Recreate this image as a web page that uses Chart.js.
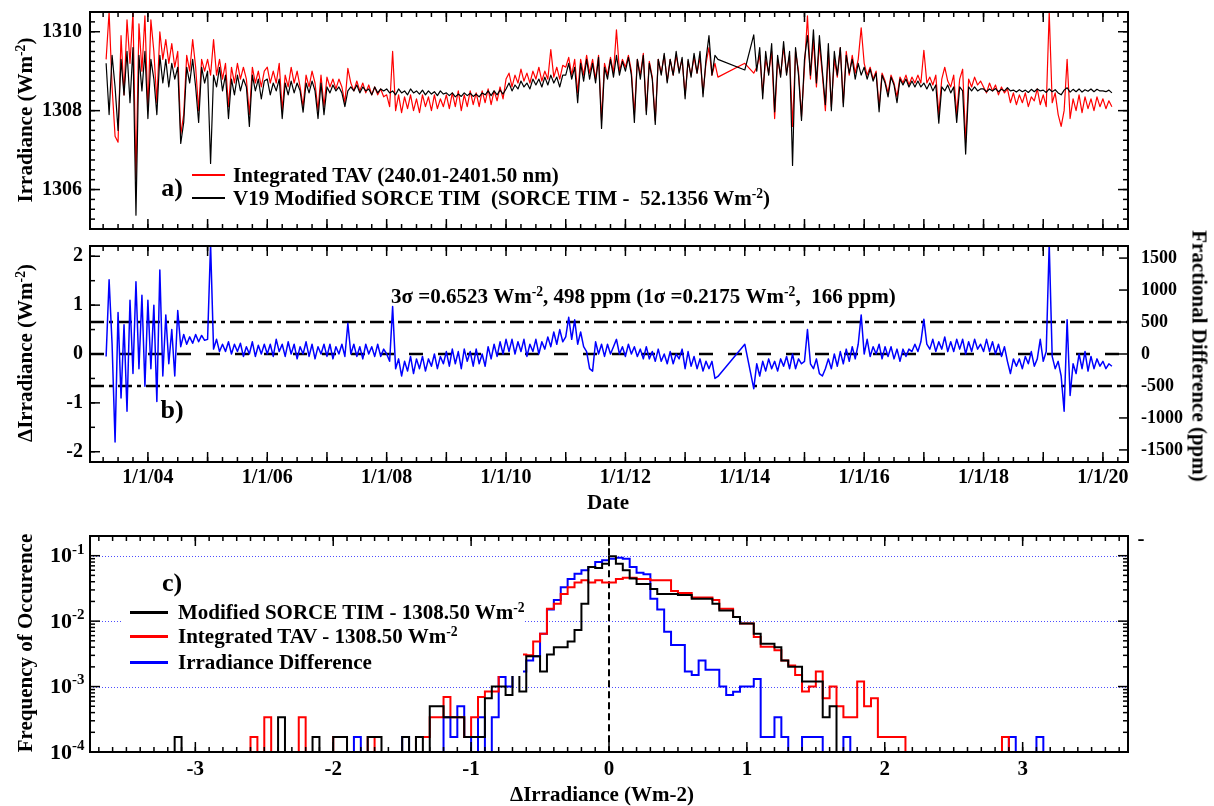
<!DOCTYPE html>
<html>
<head>
<meta charset="utf-8">
<script src="https://cdn.jsdelivr.net/npm/chart.js@4.4.1/dist/chart.umd.min.js"></script>
<style>
  body { margin: 0; background: #fff; }
  #page { position: relative; width: 1214px; height: 806px; overflow: hidden; background: #fff;
          font-family: "Liberation Serif", "Times New Roman", serif; font-weight: bold; }
  canvas { position: absolute; left: 0; }
  .t { position: absolute; white-space: nowrap; font-size: 21px; line-height: 21px; color: #000; }
  .t sup { font-size: 0.65em; vertical-align: baseline; position: relative; top: -0.55em; line-height: 0; }
  .c { transform: translate(-50%, -50%); }
  .l { transform: translateY(-50%); }
  .rl { transform: translate(-50%, -50%) rotate(-90deg); }
  .rr { transform: translate(-50%, -50%) rotate(90deg); }
  .ln { position: absolute; }
  .box { position: absolute; background: #fff; }
</style>
</head>
<body>
<div id="page">
  <canvas id="ca" width="1214" height="240" style="top:0"></canvas>
  <canvas id="cb" width="1214" height="280" style="top:240px"></canvas>
  <canvas id="cc" width="1214" height="286" style="top:520px"></canvas>

  <!-- panel a -->
  <div class="t rl" style="left:25px;top:120px">Irradiance (Wm<sup>-2</sup>)</div>
  <div class="t c" style="left:172px;top:188px;font-size:26px;line-height:26px">a)</div>
  <div class="ln" style="left:192px;top:174px;width:33px;height:1.5px;background:#ff0000"></div>
  <div class="t l" style="left:233px;top:175px">Integrated TAV (240.01-2401.50 nm)</div>
  <div class="ln" style="left:192px;top:197px;width:33px;height:1.5px;background:#000"></div>
  <div class="t l" style="left:233px;top:198px">V19 Modified SORCE TIM&nbsp; (SORCE TIM -&nbsp; 52.1356 Wm<sup>-2</sup>)</div>

  <!-- panel b -->
  <div class="t rl" style="left:25px;top:353px">ΔIrradiance (Wm<sup>-2</sup>)</div>
  <div class="t rr" style="left:1199px;top:356px">Fractional Difference (ppm)</div>
  <div class="t l" style="left:391px;top:296px">3σ =0.6523 Wm<sup>-2</sup>, 498 ppm (1σ =0.2175 Wm<sup>-2</sup>,&nbsp; 166 ppm)</div>
  <div class="t c" style="left:172px;top:410px;font-size:26px;line-height:26px">b)</div>
  <div class="t c" style="left:608px;top:502px">Date</div>

  <!-- panel c -->
  <div class="t rl" style="left:25px;top:643px">Frequency of Occurence</div>
  <div class="t c" style="left:602px;top:794px">ΔIrradiance (Wm-2)</div>
  <div class="box" style="left:123px;top:597px;width:400px;height:79px"></div>
  <div class="t c" style="left:172px;top:583px;font-size:26px;line-height:26px">c)</div>
  <div class="ln" style="left:130px;top:611px;width:38px;height:3px;background:#000"></div>
  <div class="t l" style="left:178px;top:612px">Modified SORCE TIM - 1308.50 Wm<sup>-2</sup></div>
  <div class="ln" style="left:130px;top:635px;width:38px;height:3px;background:#ff0000"></div>
  <div class="t l" style="left:178px;top:636px">Integrated TAV - 1308.50 Wm<sup>-2</sup></div>
  <div class="ln" style="left:130px;top:661px;width:38px;height:3px;background:#0000ff"></div>
  <div class="t l" style="left:178px;top:662px">Irradiance Difference</div>
  <div class="t c" style="left:1141px;top:538px">-</div>
</div>

<script>
// ---- time series, one sample every STEP_YEARS starting at START_YEAR ----
const START_YEAR = 2003.30;
const STEP_YEARS = 0.05;

// V19 Modified SORCE TIM (Wm-2)
const TIM = [
  1309.2, 1307.9, 1309.4, 1308.6, 1307.5, 1309.3, 1308.4, 1309.5, 1308.2, 1309.6, 1305.35, 1309.4, 1308.5, 1309.5,
  1307.8, 1309.3, 1308.8, 1307.9, 1309.4, 1308.7, 1309.3, 1308.6, 1309.2, 1308.8, 1309.1, 1307.17, 1307.7, 1309.1, 1308.7, 1309.3, 1308.6, 1307.7, 1309.1, 1308.7,
  1309.0, 1306.66, 1308.9, 1308.6, 1309.1, 1308.5, 1308.9, 1307.8, 1308.8, 1308.4, 1308.9, 1308.5, 1308.8, 1308.6, 1307.6, 1308.9, 1308.5, 1308.8, 1308.3, 1308.75,
  1308.8, 1308.4, 1308.7, 1308.5, 1308.8, 1307.8, 1308.7, 1308.4, 1308.75, 1308.45, 1308.7, 1308.5, 1307.96, 1308.7, 1308.45, 1308.75, 1308.5, 1307.8, 1308.7, 1307.9,
  1308.6, 1308.45, 1308.65, 1308.5, 1308.6, 1308.45, 1308.1, 1308.5, 1308.6, 1308.5, 1308.65, 1308.45, 1308.6, 1308.5, 1308.55, 1308.4, 1308.6, 1308.45, 1308.55, 1308.5,
  1308.55, 1308.45, 1308.5, 1308.4, 1308.55, 1308.45, 1308.5, 1308.4, 1308.55, 1308.45, 1308.5, 1308.42, 1308.52, 1308.4, 1308.5, 1308.42, 1308.48, 1308.38, 1308.5, 1308.42,
  1308.45, 1308.38, 1308.45, 1308.35, 1308.42, 1308.36, 1308.45, 1308.38, 1308.44, 1308.36, 1308.42, 1308.35, 1308.45, 1308.4, 1308.5, 1308.38, 1308.5, 1308.4, 1308.52, 1308.42,
  1308.55, 1308.7, 1308.5, 1308.65, 1308.55, 1308.75, 1308.6, 1308.7, 1308.55, 1308.8, 1308.65, 1308.8, 1308.6, 1308.85, 1308.65, 1308.9, 1308.7, 1308.85, 1308.6, 1308.9,
  1308.9, 1309.2, 1308.8, 1309.1, 1308.2, 1309.2, 1308.75, 1309.3, 1308.8, 1309.2, 1308.7, 1309.35, 1307.55, 1309.1, 1308.8, 1309.3, 1308.85, 1309.4, 1308.9, 1309.25,
  1309.0, 1309.35, 1308.9, 1307.7, 1309.3, 1308.8, 1309.4, 1307.9, 1309.2, 1308.8, 1307.65, 1309.3, 1308.9, 1309.45, 1308.7, 1309.3, 1308.9, 1309.5, 1308.95, 1309.35,
  1308.3, 1309.3, 1308.85, 1309.45, 1308.95, 1309.5, 1308.35, 1309.3, 1309.9, 1308.9, 1309.4, 1309.3, null, null, null, null, null, null, null, null,
  1309.03, null, null, 1309.92, 1309.0, 1309.6, 1308.3, 1309.5, 1308.9, 1309.7, 1307.97, 1309.4, 1308.85, 1309.75, 1308.9, 1309.5, 1306.61, 1309.6, 1308.9, 1307.75,
  1309.3, 1309.9, 1308.9, 1310.05, 1308.7, 1309.9, 1309.0, 1308.15, 1309.7, 1308.0, 1309.5, 1308.9, 1309.6, 1308.1, 1309.4, 1308.95, 1309.3, 1308.8, 1309.2, 1308.9,
  1309.1, 1308.8, 1309.05, 1308.75, 1308.95, 1307.97, 1308.9, 1308.7, 1308.35, 1308.85, 1308.65, 1308.2, 1308.8, 1308.65, 1308.8, 1308.6, 1308.75, 1308.6, 1308.75, 1308.6,
  1308.7, 1308.55, 1308.7, 1308.5, 1308.65, 1307.68, 1308.6, 1308.5, 1308.65, 1308.45, 1308.6, 1307.7, 1308.6, 1308.5, 1306.9, 1308.6, 1308.5, 1308.6, 1308.5, 1308.55,
  1308.55, 1308.48, 1308.55, 1308.5, 1308.56, 1308.48, 1308.54, 1308.5, 1308.58, 1308.5, 1308.52, 1308.47, 1308.53, 1308.48, 1308.52, 1308.46, 1308.54, 1308.48, 1308.55, 1308.5,
  1308.52, 1308.46, 1308.55, 1308.48, 1308.53, 1308.45, 1308.4, 1308.52, 1308.58, 1308.47, 1308.54, 1308.48, 1308.55, 1308.47, 1308.53, 1308.49, 1308.55, 1308.48, 1308.54, 1308.5,
  1308.5, 1308.48, 1308.52, 1308.45
];

// Integrated TAV 240.01-2401.50 nm (Wm-2)
const TAV = [
  1309.3, 1310.5, 1308.6, 1307.35, 1307.2, 1309.9, 1308.4, 1310.3, 1309.2, 1310.5, 1306.27, 1310.2, 1309.0, 1310.4,
  1308.0, 1310.3, 1309.5, 1308.2, 1310.0, 1309.3, 1309.8, 1309.2, 1309.7, 1309.1, 1309.5, 1307.4, 1307.9, 1309.4, 1309.0, 1309.8, 1309.1, 1308.0, 1309.3, 1309.0,
  1309.3, 1308.9, 1309.8, 1308.9, 1309.3, 1308.8, 1309.2, 1308.1, 1309.1, 1308.7, 1309.2, 1308.8, 1309.1, 1308.8, 1307.9, 1309.1, 1308.7, 1309.0, 1308.6, 1309.0,
  1309.1, 1308.7, 1309.0, 1308.7, 1309.2, 1308.0, 1308.9, 1308.6, 1309.1, 1308.7, 1309.0, 1308.6, 1308.1, 1308.9, 1308.6, 1309.0, 1308.7, 1308.0, 1308.9, 1308.1,
  1308.85, 1308.6, 1308.8, 1308.55, 1308.8, 1308.6, 1308.2, 1309.07, 1308.7, 1308.5, 1308.75, 1308.5, 1308.7, 1308.45, 1308.65, 1308.4, 1308.6, 1308.4, 1308.55, 1308.35,
  1308.4, 1308.1, 1309.5, 1308.0, 1308.4, 1307.95, 1308.35, 1308.05, 1308.4, 1308.0, 1308.3, 1307.95, 1308.4, 1308.1, 1308.35, 1308.0, 1308.4, 1308.05, 1308.3, 1308.1,
  1308.4, 1308.05, 1308.45, 1308.1, 1308.5, 1308.0, 1308.4, 1308.1, 1308.5, 1308.15, 1308.45, 1308.1, 1308.5, 1308.2, 1308.55, 1308.15, 1308.5, 1308.25, 1308.6, 1308.3,
  1308.8, 1308.95, 1308.6, 1308.9, 1308.7, 1309.05, 1308.75, 1308.95, 1308.7, 1309.0, 1308.8, 1309.1, 1308.75, 1309.0, 1308.8, 1309.55, 1308.85, 1309.1, 1308.8, 1309.15,
  1309.1, 1309.35, 1308.9, 1309.3, 1308.45, 1309.3, 1308.9, 1309.4, 1308.95, 1309.3, 1308.8, 1309.4, 1307.75, 1309.2, 1308.9, 1309.35, 1308.95, 1310.05, 1309.0, 1309.3,
  1309.1, 1309.4, 1309.0, 1307.9, 1309.3, 1308.9, 1309.45, 1308.0, 1309.25, 1308.85, 1307.75, 1309.3, 1308.95, 1309.4, 1308.75, 1309.3, 1308.9, 1309.4, 1309.0, 1309.3,
  1308.4, 1309.25, 1308.9, 1309.35, 1308.95, 1309.35, 1308.45, 1309.2, 1309.6, 1308.9, 1309.2, 1308.85, null, null, null, null, null, null, null, null,
  1309.2, null, null, 1308.95, 1309.1, 1309.4, 1308.45, 1309.3, 1308.95, 1309.5, 1307.8, 1309.3, 1308.9, 1309.6, 1308.95, 1309.4, 1307.6, 1309.5, 1309.0, 1307.85,
  1309.1, 1310.4, 1308.8, 1309.8, 1308.6, 1309.7, 1308.9, 1308.0, 1309.5, 1308.1, 1309.3, 1308.85, 1309.6, 1308.2, 1309.5, 1308.9, 1309.4, 1308.95, 1309.3, 1310.1,
  1309.2, 1308.9, 1309.1, 1308.8, 1309.0, 1308.1, 1308.95, 1308.75, 1308.45, 1308.9, 1308.7, 1308.35, 1308.85, 1308.7, 1308.9, 1308.65, 1308.85, 1308.7, 1308.9, 1308.7,
  1309.53, 1308.7, 1308.85, 1308.65, 1308.9, 1307.9, 1308.8, 1309.1, 1308.75, 1308.6, 1308.9, 1307.9, 1308.8, 1309.05, 1307.2, 1308.8, 1308.6, 1308.85, 1308.65, 1308.75,
  1308.6, 1308.45, 1308.7, 1308.5, 1308.65, 1308.4, 1308.6, 1308.45, 1308.55, 1308.2, 1308.45, 1308.15, 1308.4, 1308.2, 1308.45, 1308.1, 1308.35, 1308.25, 1308.55, 1308.15,
  1308.4, 1308.1, 1310.5, 1308.2, 1308.45, 1307.9, 1307.6, 1308.0, 1309.3, 1307.8, 1308.3, 1308.0, 1308.4, 1307.95, 1308.35, 1308.05, 1308.3, 1308.0, 1308.35, 1308.1,
  1308.3, 1308.05, 1308.25, 1308.1
];

// Irradiance difference TAV - TIM (Wm-2)
const DIFF = [
  -0.05, 1.52, 0.2, -1.8, 0.85, -0.9, 0.6, -1.17, 1.1, -0.4, 1.48, -0.3, 1.2, -0.66,
  1.1, -0.3, 1.0, -0.97, 1.72, -0.45, 0.8, -0.2, 0.5, -0.45, 0.89, 0.15, 0.4, 0.2, 0.35, 0.22, 0.4, 0.25, 0.38, 0.28,
  0.3, 2.25, 0.1, 0.3, 0.05, 0.2, 0.05, 0.25, 0.0, 0.2, 0.05, 0.22, -0.05, 0.15, 0.0, 0.25, -0.05, 0.18, 0.0, 0.2,
  0.0, 0.2, -0.05, 0.3, 0.05, 0.2, -0.05, 0.25, 0.0, 0.2, -0.1, 0.15, 0.0, 0.25, -0.05, 0.2, -0.1, 0.15, 0.0, 0.2,
  -0.05, 0.2, -0.1, 0.15, 0.0, 0.2, -0.05, 0.63, 0.0, 0.2, -0.05, 0.15, -0.1, 0.2, 0.0, 0.15, -0.05, 0.2, -0.05, 0.1,
  0.0, -0.15, 0.97, -0.3, -0.1, -0.45, -0.15, -0.35, -0.05, -0.4, -0.1, -0.3, -0.05, -0.35, -0.1, -0.25, 0.0, -0.3, -0.05, -0.2,
  0.05, -0.25, 0.1, -0.2, 0.05, -0.3, 0.1, -0.15, 0.05, -0.25, 0.1, -0.2, 0.0, -0.25, 0.15, -0.1, 0.2, -0.05, 0.25, 0.0,
  0.3, 0.05, 0.3, 0.0, 0.25, 0.05, 0.3, -0.05, 0.2, 0.05, 0.3, 0.0, 0.25, 0.1, 0.35, 0.15, 0.45, 0.2, 0.5, 0.25,
  0.35, 0.75, 0.3, 0.7, 0.2, 0.45, 0.15, 0.05, -0.3, -0.35, 0.25, 0.0, 0.2, -0.05, 0.2, 0.0, 0.15, 0.3, 0.0, 0.15,
  -0.05, 0.2, 0.0, 0.15, -0.05, 0.1, -0.1, 0.15, -0.1, 0.05, -0.15, 0.1, -0.15, 0.0, -0.2, 0.05, -0.2, 0.0, -0.1, 0.1,
  -0.3, 0.05, -0.25, -0.05, -0.3, -0.1, -0.35, -0.15, -0.3, -0.15, -0.5, -0.46, null, null, null, null, null, null, null, null,
  0.2, null, null, -0.71, -0.2, -0.45, -0.15, -0.35, -0.1, -0.3, -0.15, -0.35, -0.1, -0.25, -0.05, -0.3, 0.0, -0.3, -0.1, -0.2,
  -0.15, 0.5, -0.2, -0.3, -0.1, -0.4, -0.45, -0.3, -0.1, -0.3, 0.0, -0.25, 0.05, -0.2, 0.1, -0.15, 0.15, -0.1, 0.2, 0.8,
  0.0, 0.3, -0.05, 0.15, 0.0, 0.2, -0.1, 0.15, -0.05, 0.15, -0.1, 0.1, -0.15, 0.1, -0.05, 0.1, 0.05, 0.2, 0.05, 0.25,
  0.71, 0.2, 0.1, 0.3, 0.05, 0.25, 0.1, 0.35, 0.05, 0.25, 0.05, 0.3, 0.1, 0.3, 0.0, 0.25, 0.05, 0.3, 0.1, 0.2,
  0.05, 0.3, 0.05, 0.25, 0.0, 0.2, -0.05, 0.15, -0.15, -0.4, -0.1, -0.25, -0.1, -0.3, -0.05, -0.2, 0.05, -0.25, -0.1, 0.3,
  -0.15, 0.05, 2.25, -0.05, -0.3, -0.15, -0.45, -1.17, 0.7, -0.85, -0.2, -0.4, 0.0, -0.3, 0.05, -0.35, -0.05, -0.3, -0.1, -0.25,
  -0.15, -0.3, -0.2, -0.25
];

const SIGMA3 = 0.6523;      // 3 sigma of the difference
const TSI_REF = 1308.5;     // for the ppm axis

const DATE_TICKS = [2004, 2006, 2008, 2010, 2012, 2014, 2016, 2018, 2020];
const DATE_LABELS = ['1/1/04', '1/1/06', '1/1/08', '1/1/10', '1/1/12', '1/1/14', '1/1/16', '1/1/18', '1/1/20'];
const IRR_TICKS = [1306, 1308, 1310];
const DIFF_TICKS = [-2, -1, 0, 1, 2];
const PPM_TICKS = [-1500, -1000, -500, 0, 500, 1000, 1500];

// ---- histograms: bin left edge (Wm-2) and frequency of occurence ----
const BIN_W = 0.05;
const TIM_BINS = [-3.15, -2.40, -2.15, -2.00, -1.95, -1.75, -1.70, -1.50, -1.40,
  -1.30, -1.25, -1.20, -1.15, -1.10, -1.05, -1.00, -0.95, -0.90, -0.85, -0.80, -0.75, -0.70, -0.65, -0.60, -0.55,
  -0.50, -0.45, -0.40, -0.35, -0.30, -0.25, -0.20, -0.15, -0.10, -0.05,
  0.00, 0.05, 0.10, 0.15, 0.20, 0.25, 0.30, 0.35, 0.40, 0.45, 0.50, 0.55, 0.60, 0.65, 0.70, 0.75,
  0.80, 0.85, 0.90, 0.95, 1.00, 1.05, 1.10, 1.15, 1.20, 1.25, 1.30, 1.35, 1.40, 1.45, 1.50, 1.55, 1.60];
const TIM_FREQ = [1.7e-4, 3.4e-4, 1.7e-4, 1.7e-4, 1.7e-4, 1.7e-4, 1.7e-4, 1.7e-4, 1.7e-4,
  5.0e-4, 5.0e-4, 3.4e-4, 3.4e-4, 3.4e-4, 1.7e-4, 1.7e-4, 1.7e-4, 6.6e-4, 1.0e-3, 1.0e-3, 7.4e-4, 1.7e-3, 8.4e-4, 2.9e-3, 2.9e-3,
  1.7e-3, 3.1e-3, 4.0e-3, 4.0e-3, 4.9e-3, 7.3e-3, 1.85e-2, 6.7e-2, 6.5e-2, 7.5e-2,
  9.8e-2, 7.5e-2, 6.0e-2, 4.5e-2, 3.7e-2, 3.7e-2, 3.1e-2, 2.6e-2, 2.6e-2, 2.6e-2, 2.5e-2, 2.5e-2, 2.2e-2, 2.2e-2, 2.2e-2, 1.85e-2,
  1.46e-2, 1.46e-2, 1.16e-2, 9.2e-3, 9.2e-3, 6.4e-3, 4.5e-3, 4.5e-3, 4.0e-3, 2.5e-3, 2.0e-3, 2.0e-3, 1.2e-3, 1.2e-3, 1.2e-3, 3.4e-4, 5.0e-4];

const TAV_BINS = [-2.60, -2.50, -2.25, -2.00, -1.95, -1.75,
  -1.40, -1.35, -1.30, -1.25, -1.20, -1.15, -1.10, -1.05, -1.00, -0.95, -0.90, -0.85, -0.80, -0.75, -0.70, -0.65, -0.60, -0.55,
  -0.50, -0.45, -0.40, -0.35, -0.30, -0.25, -0.20, -0.15, -0.10, -0.05,
  0.00, 0.05, 0.10, 0.15, 0.20, 0.25, 0.30, 0.35, 0.40, 0.45, 0.50, 0.55, 0.60, 0.65, 0.70, 0.75,
  0.80, 0.85, 0.90, 0.95, 1.00, 1.05, 1.10, 1.15, 1.20, 1.25, 1.30, 1.35, 1.40, 1.45, 1.50, 1.55, 1.60,
  1.65, 1.70, 1.75, 1.80, 1.85, 1.90, 1.95, 2.00, 2.05, 2.10, 2.85];
const TAV_FREQ = [1.7e-4, 3.4e-4, 3.4e-4, 1.7e-4, 1.7e-4, 1.7e-4,
  1.7e-4, 1.7e-4, 3.4e-4, 3.4e-4, 6.9e-4, 3.4e-4, 3.4e-4, 1.7e-4, 3.4e-4, 6.9e-4, 8.4e-4, 8.4e-4, 2.2e-3, 2.0e-3, 2.2e-3, 3.1e-3, 3.0e-3, 4.9e-3,
  6.4e-3, 1.55e-2, 1.85e-2, 2.6e-2, 3.3e-2, 3.9e-2, 4.2e-2, 3.9e-2, 4.2e-2, 3.9e-2,
  3.9e-2, 4.4e-2, 4.6e-2, 4.6e-2, 4.4e-2, 4.4e-2, 4.2e-2, 4.2e-2, 4.2e-2, 2.9e-2, 2.7e-2, 2.7e-2, 2.3e-2, 2.3e-2, 2.3e-2, 2.1e-2,
  1.55e-2, 1.55e-2, 1.16e-2, 9.2e-3, 9.2e-3, 5.7e-3, 4.05e-3, 4.05e-3, 3.6e-3, 2.5e-3, 2.1e-3, 1.5e-3, 8.4e-4, 1.0e-3, 1.7e-3, 6.6e-4, 1.0e-3,
  5.0e-4, 3.4e-4, 3.4e-4, 1.2e-3, 5.0e-4, 6.6e-4, 1.7e-4, 1.7e-4, 1.7e-4, 1.7e-4, 1.7e-4];

const DIF_BINS = [-1.85, -1.50, -1.20, -1.15, -1.10, -1.05, -0.95, -0.85,
  -0.80, -0.75, -0.70, -0.65, -0.60, -0.55, -0.50, -0.45, -0.40, -0.35, -0.30, -0.25, -0.20, -0.15, -0.10, -0.05,
  0.00, 0.05, 0.10, 0.15, 0.20, 0.25, 0.30, 0.35, 0.40, 0.45, 0.50, 0.55, 0.60, 0.65, 0.70, 0.75,
  0.80, 0.85, 0.90, 0.95, 1.00, 1.05, 1.10, 1.15, 1.20, 1.25, 1.40, 1.45, 1.50, 1.70, 2.90, 3.10];
const DIF_FREQ = [1.7e-4, 1.7e-4, 3.4e-4, 1.7e-4, 5.0e-4, 1.7e-4, 3.4e-4, 3.4e-4,
  1.4e-3, 1.0e-3, 1.8e-3, 1.7e-3, 2.5e-3, 2.9e-3, 6.4e-3, 1.5e-2, 2.1e-2, 3.3e-2, 4.4e-2, 5.3e-2, 6.0e-2, 6.7e-2, 8.0e-2, 8.5e-2,
  9.0e-2, 9.3e-2, 9.0e-2, 6.7e-2, 5.5e-2, 5.2e-2, 2.2e-2, 1.5e-2, 6.9e-3, 4.3e-3, 4.3e-3, 1.7e-3, 1.5e-3, 2.5e-3, 1.8e-3, 1.8e-3,
  1.0e-3, 7.4e-4, 8.3e-4, 1.0e-3, 1.0e-3, 1.3e-3, 1.7e-4, 1.7e-4, 3.4e-4, 1.7e-4, 1.7e-4, 1.7e-4, 1.7e-4, 1.7e-4, 1.7e-4, 1.7e-4];

const HIST_X_TICKS = [-3, -2, -1, 0, 1, 2, 3];
const FREQ_TICKS = [1e-4, 1e-3, 1e-2, 1e-1];
const FREQ_EXP = ['-4', '-3', '-2', '-1'];

// ---- axis ranges ----
const XMIN = 2003.03, XMAX = 2020.42;
const YA_MIN = 1305.0, YA_MAX = 1310.5;
const YB_MIN = -2.21, YB_MAX = 2.21;
const XC_MIN = -3.764, XC_MAX = 3.764;
const YC_MIN = 1e-4, YC_MAX = 0.2;
const HIST_FLOOR = 3e-5;   // empty bins sit below the axis

const FONT_TICK = 'bold 20px "Liberation Serif", "Times New Roman", serif';
const FONT_PPM = 'bold 18px "Liberation Serif", "Times New Roman", serif';
const FONT_TEN = 'bold 22px "Liberation Serif", "Times New Roman", serif';
const FONT_EXP = 'bold 15px "Liberation Serif", "Times New Roman", serif';

function range(a, b, step) {
  const out = [];
  for (let v = a; v <= b + 1e-9; v += step) out.push(+v.toFixed(6));
  return out;
}

function timeSeries(vals) {
  return vals.map((v, i) => ({ x: START_YEAR + i * STEP_YEARS, y: v }));
}

function histOutline(bins, freq) {
  const idx = bins.map(b => Math.round(b / BIN_W));
  const lookup = new Map(idx.map((k, i) => [k, freq[i]]));
  const lo = idx[0], hi = idx[idx.length - 1];
  const pts = [{ x: lo * BIN_W, y: HIST_FLOOR }];
  for (let k = lo; k <= hi; k++) pts.push({ x: k * BIN_W, y: lookup.get(k) ?? HIST_FLOOR });
  pts.push({ x: (hi + 1) * BIN_W, y: HIST_FLOOR });
  return pts;
}

function logMinor() {
  const out = [];
  [-4, -3, -2, -1].forEach(e => { for (let m = 2; m <= 9; m++) out.push(m * Math.pow(10, e)); });
  return out.filter(v => v <= YC_MAX);
}

// frame, inward ticks, grid and tick labels drawn from the chart scales
function axisPlugin(spec) {
  return {
    id: 'axisFrame',
    beforeDatasetsDraw(chart) {
      if (!spec.grid) return;
      const { ctx, chartArea: a } = chart;
      const s = chart.scales[spec.grid.scale];
      ctx.save();
      ctx.strokeStyle = spec.grid.color;
      ctx.lineWidth = 1;
      ctx.setLineDash([1, 2]);
      spec.grid.values.forEach(v => {
        const p = Math.round(s.getPixelForValue(v)) + 0.5;
        ctx.beginPath(); ctx.moveTo(a.left, p); ctx.lineTo(a.right, p); ctx.stroke();
      });
      ctx.restore();
    },
    afterDatasetsDraw(chart) {
      const { ctx, chartArea: a } = chart;
      ctx.save();
      ctx.strokeStyle = '#000';
      ctx.lineWidth = 1.5;
      spec.ticks.forEach(t => {
        const s = chart.scales[t.scale];
        const horiz = s.isHorizontal();
        [[t.major, t.majorLen || 10], [t.minor || [], t.minorLen || 5]].forEach(([vals, len]) => {
          vals.forEach(v => {
            const p = s.getPixelForValue(v);
            if (horiz ? (p < a.left - 0.5 || p > a.right + 0.5) : (p < a.top - 0.5 || p > a.bottom + 0.5)) return;
            t.sides.forEach(side => {
              ctx.beginPath();
              if (side === 'bottom') { ctx.moveTo(p, a.bottom); ctx.lineTo(p, a.bottom - len); }
              if (side === 'top') { ctx.moveTo(p, a.top); ctx.lineTo(p, a.top + len); }
              if (side === 'left') { ctx.moveTo(a.left, p); ctx.lineTo(a.left + len, p); }
              if (side === 'right') { ctx.moveTo(a.right, p); ctx.lineTo(a.right - len, p); }
              ctx.stroke();
            });
          });
        });
      });
      ctx.lineWidth = 2;
      ctx.strokeRect(a.left, a.top, a.right - a.left, a.bottom - a.top);

      ctx.fillStyle = '#000';
      ctx.textBaseline = 'middle';
      (spec.labels || []).forEach(L => {
        const s = chart.scales[L.scale];
        L.values.forEach((v, i) => {
          const p = s.getPixelForValue(v);
          if (L.exp) {
            ctx.font = FONT_TEN; ctx.textAlign = 'right';
            ctx.fillText('10', L.at, p + 1);
            ctx.font = FONT_EXP; ctx.textAlign = 'left';
            ctx.fillText(L.exp[i], L.at, p - 6);
            return;
          }
          ctx.font = L.font; ctx.textAlign = L.align;
          if (s.isHorizontal()) ctx.fillText(L.text[i], p, L.at);
          else ctx.fillText(L.text[i], L.at, p);
        });
      });
      ctx.restore();
    }
  };
}

const common = {
  responsive: false,
  animation: false,
  events: [],
  plugins: { legend: { display: false }, tooltip: { enabled: false } }
};

const yearMajor = range(2003, 2020, 1);
const yearMinor = range(2003, 2020.5, 0.25);

// ---- a) irradiance time series ----
new Chart(document.getElementById('ca'), {
  type: 'line',
  data: {
    datasets: [
      { label: 'V19 Modified SORCE TIM', data: timeSeries(TIM), borderColor: '#000000', borderWidth: 1.2,
        pointRadius: 0, spanGaps: true, clip: 0, borderJoinStyle: 'round' },
      { label: 'Integrated TAV', data: timeSeries(TAV), borderColor: '#ff0000', borderWidth: 1.2,
        pointRadius: 0, spanGaps: true, clip: 0, borderJoinStyle: 'round' }
    ]
  },
  options: {
    ...common,
    layout: { padding: { left: 90, right: 86, top: 12, bottom: 11 } },
    scales: {
      x: { type: 'linear', min: XMIN, max: XMAX, display: false },
      y: { type: 'linear', min: YA_MIN, max: YA_MAX, display: false }
    }
  },
  plugins: [axisPlugin({
    ticks: [
      { scale: 'x', major: yearMajor, minor: yearMinor, sides: ['top', 'bottom'] },
      { scale: 'y', major: IRR_TICKS, minor: range(1305, 1310.5, 0.25), sides: ['left', 'right'] }
    ],
    labels: [
      { scale: 'y', values: IRR_TICKS, text: IRR_TICKS.map(String), at: 82, align: 'right', font: FONT_TICK }
    ]
  })]
});

// ---- b) difference time series ----
new Chart(document.getElementById('cb'), {
  type: 'line',
  data: {
    datasets: [
      { label: 'Irradiance Difference', data: timeSeries(DIFF), borderColor: '#0000ff', borderWidth: 1.5,
        pointRadius: 0, spanGaps: true, clip: 0, borderJoinStyle: 'round' },
      { label: 'zero', data: [{ x: XMIN, y: 0 }, { x: XMAX, y: 0 }], borderColor: '#000', borderWidth: 2.5,
        borderDash: [14, 15], pointRadius: 0, clip: 0 },
      { label: '+3 sigma', data: [{ x: XMIN, y: SIGMA3 }, { x: XMAX, y: SIGMA3 }], borderColor: '#000', borderWidth: 2.5,
        borderDash: [14, 5, 4, 5], pointRadius: 0, clip: 0 },
      { label: '-3 sigma', data: [{ x: XMIN, y: -SIGMA3 }, { x: XMAX, y: -SIGMA3 }], borderColor: '#000', borderWidth: 2.5,
        borderDash: [14, 5, 4, 5], pointRadius: 0, clip: 0 }
    ]
  },
  options: {
    ...common,
    layout: { padding: { left: 90, right: 86, top: 6, bottom: 58 } },
    scales: {
      x: { type: 'linear', min: XMIN, max: XMAX, display: false },
      y: { type: 'linear', min: YB_MIN, max: YB_MAX, display: false },
      ppm: { type: 'linear', position: 'right', min: YB_MIN * 1e6 / TSI_REF, max: YB_MAX * 1e6 / TSI_REF, display: false }
    }
  },
  plugins: [axisPlugin({
    ticks: [
      { scale: 'x', major: yearMajor, minor: yearMinor, sides: ['top', 'bottom'] },
      { scale: 'y', major: DIFF_TICKS, minor: range(-2, 2, 0.5), sides: ['left'] },
      { scale: 'ppm', major: PPM_TICKS, majorLen: 9, sides: ['right'] }
    ],
    labels: [
      { scale: 'y', values: DIFF_TICKS, text: DIFF_TICKS.map(String), at: 83, align: 'right', font: FONT_TICK },
      { scale: 'ppm', values: PPM_TICKS, text: PPM_TICKS.map(String), at: 1141, align: 'left', font: FONT_PPM },
      { scale: 'x', values: DATE_TICKS, text: DATE_LABELS, at: 238, align: 'center', font: FONT_TICK }
    ]
  })]
});

// ---- c) histograms ----
new Chart(document.getElementById('cc'), {
  type: 'line',
  data: {
    datasets: [
      { label: 'Modified SORCE TIM - 1308.50', data: histOutline(TIM_BINS, TIM_FREQ), borderColor: '#000000',
        borderWidth: 2, stepped: true, pointRadius: 0, clip: 0 },
      { label: 'Integrated TAV - 1308.50', data: histOutline(TAV_BINS, TAV_FREQ), borderColor: '#ff0000',
        borderWidth: 2, stepped: true, pointRadius: 0, clip: 0 },
      { label: 'Irradiance Difference', data: histOutline(DIF_BINS, DIF_FREQ), borderColor: '#0000ff',
        borderWidth: 2, stepped: true, pointRadius: 0, clip: 0 },
      { label: 'zero', data: [{ x: 0, y: HIST_FLOOR }, { x: 0, y: 1 }], borderColor: '#000', borderWidth: 2,
        borderDash: [7, 4], pointRadius: 0, clip: 0 }
    ]
  },
  options: {
    ...common,
    layout: { padding: { left: 90, right: 86, top: 16, bottom: 54 } },
    scales: {
      x: { type: 'linear', min: XC_MIN, max: XC_MAX, display: false },
      y: { type: 'logarithmic', min: YC_MIN, max: YC_MAX, display: false }
    }
  },
  plugins: [axisPlugin({
    grid: { scale: 'y', values: [1e-3, 1e-2, 1e-1], color: '#4d4dff' },
    ticks: [
      { scale: 'x', major: HIST_X_TICKS, minor: range(-3.7, 3.7, 0.1), sides: ['top', 'bottom'] },
      { scale: 'y', major: FREQ_TICKS, minor: logMinor(), sides: ['left', 'right'] }
    ],
    labels: [
      { scale: 'x', values: HIST_X_TICKS, text: HIST_X_TICKS.map(String), at: 250, align: 'center', font: 'bold 21px "Liberation Serif", serif' },
      { scale: 'y', values: FREQ_TICKS, exp: FREQ_EXP, at: 72 }
    ]
  })]
});
</script>
</body>
</html>
